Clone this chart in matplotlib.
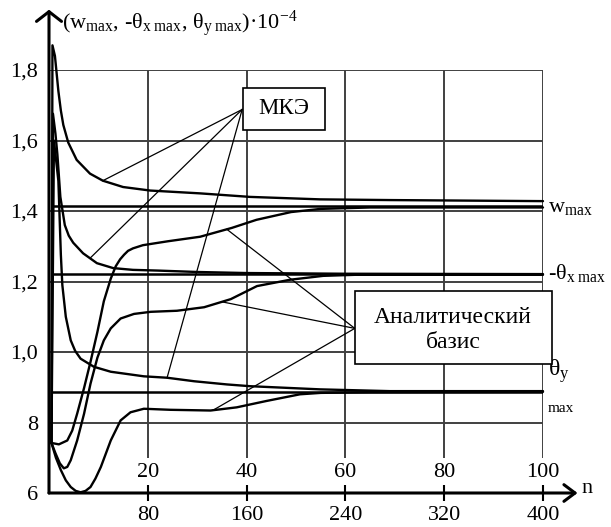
import matplotlib.pyplot as plt
import matplotlib.patches as patches
import numpy as np

plt.rcParams['font.family'] = ['Liberation Serif', 'DejaVu Serif']
plt.rcParams['mathtext.fontset'] = 'custom'
plt.rcParams['mathtext.rm'] = 'Liberation Serif'
plt.rcParams['mathtext.it'] = 'Liberation Serif:italic'

# FEM (МКЭ) curves
fem_w_n = [0.5, 0.7, 1.2, 1.9, 2.4, 2.9, 3.9, 5.6, 8.3, 10.9, 15, 20.5, 30.6, 40.7, 54.9, 69, 100]
fem_w = [0.742, 1.87, 1.84, 1.74, 1.685, 1.644, 1.594, 1.545, 1.506, 1.486, 1.468, 1.458, 1.45, 1.44, 1.433, 1.431, 1.428]

fem_tx_n = [0.5, 0.8, 1.3, 1.7, 2.0, 2.3, 3.2, 4.0, 4.9, 6.9, 9.7, 13, 17, 22, 30, 40, 60, 100]
fem_tx = [0.742, 1.676, 1.62, 1.56, 1.5, 1.44, 1.36, 1.33, 1.31, 1.28, 1.252, 1.238, 1.233, 1.231, 1.227, 1.224, 1.222, 1.221]

fem_ty_n = [0.5, 1.0, 1.9, 2.4, 2.7, 3.4, 4.4, 5.3, 6.4, 9.1, 12.5, 19.2, 23.9, 29.4, 36, 40.7, 54.9, 69, 100]
fem_ty = [0.742, 1.60, 1.485, 1.276, 1.19, 1.1, 1.033, 1.003, 0.981, 0.958, 0.944, 0.931, 0.927, 0.917, 0.908, 0.903, 0.894, 0.889, 0.889]

# analytic basis curves
an_w_n = [0.5, 2.0, 3.7, 4.7, 5.7, 7.1, 8.4, 9.8, 11.1, 12.5, 13.5, 14.4, 15.2, 16, 17, 19, 24, 30.6, 37, 42, 49, 55, 65, 100]
an_w = [0.742, 0.738, 0.749, 0.777, 0.825, 0.898, 0.972, 1.057, 1.144, 1.208, 1.243, 1.263, 1.276, 1.287, 1.294, 1.303, 1.314, 1.327, 1.352, 1.375, 1.397, 1.406, 1.41, 1.41]

an_tx_n = [0.5, 1.3, 2.2, 3.0, 3.7, 4.4, 5.7, 7.1, 8.4, 9.8, 11.1, 12.5, 14.5, 17.2, 20.6, 25.9, 31.4, 36.8, 42.1, 48.8, 55.5, 62, 100]
an_tx = [0.742, 0.713, 0.684, 0.67, 0.674, 0.693, 0.749, 0.825, 0.91, 0.984, 1.033, 1.067, 1.095, 1.108, 1.114, 1.117, 1.127, 1.15, 1.187, 1.205, 1.216, 1.219, 1.219]

an_ty_n = [0.5, 1.4, 2.4, 3.4, 4.4, 5.4, 6.4, 7.4, 8.4, 9.4, 10.5, 12.5, 14.5, 16.5, 19.2, 24.6, 32.7, 38, 44, 50.8, 55, 65, 100]
an_ty = [0.742, 0.70, 0.665, 0.636, 0.617, 0.606, 0.602, 0.606, 0.617, 0.641, 0.674, 0.749, 0.806, 0.829, 0.839, 0.836, 0.834, 0.843, 0.861, 0.88, 0.884, 0.886, 0.887]

# reference (limit) levels
ref_levels = [1.415, 1.22, 0.886]

n_ticks = [20, 40, 60, 80, 100]
n_labels_top = ['20', '40', '60', '80', '100']
n_labels_bottom = ['80', '160', '240', '320', '400']
y_ticks = [0.6, 0.8, 1.0, 1.2, 1.4, 1.6, 1.8]
y_labels = ['6', '8', '1,0', '1,2', '1,4', '1,6', '1,8']

# where the callout lines touch the curves
fem_ptr_n = [10.9, 8.3, 23.9]
an_ptr_n = [36.0, 35.0, 33.2]

fig = plt.figure(figsize=(6.11, 5.27), dpi=100)
ax = fig.add_axes([49 / 611, 34 / 527, 494 / 611, 423 / 527])
ax.set_xlim(0, 100)
ax.set_ylim(0.6, 1.8)
for s in ax.spines.values():
    s.set_visible(False)

ax.set_xticks(n_ticks)
ax.set_xticklabels(n_labels_bottom)
ax.tick_params(axis='x', direction='inout', length=12, width=1.5, pad=3, labelsize=16)
ax.set_yticks(y_ticks)
ax.set_yticklabels(y_labels)
ax.tick_params(axis='y', length=0, pad=8, labelsize=16)

# grid
ax.hlines(y_ticks[1:], 0, 100, color='#404040', lw=1.4, zorder=1)
ax.vlines(n_ticks, 0.70, 1.8, color='#404040', lw=1.4, zorder=1)
ax.hlines(ref_levels, 0.6, 100, color='black', lw=1.8, zorder=2)

curves = [(fem_w_n, fem_w), (fem_tx_n, fem_tx), (fem_ty_n, fem_ty),
          (an_w_n, an_w), (an_tx_n, an_tx), (an_ty_n, an_ty)]
for xs, ys in curves:
    ax.plot(xs, ys, color='black', lw=1.7, zorder=3, clip_on=False,
            solid_capstyle='round', solid_joinstyle='round')

# axes with arrows
ax.annotate('', xy=(0, 1.971), xytext=(0, 0.6), annotation_clip=False,
            arrowprops=dict(arrowstyle='->, head_length=0.35, head_width=0.45', lw=2.2,
                            color='black', shrinkA=0, shrinkB=0, mutation_scale=20))
ax.annotate('', xy=(107, 0.6), xytext=(0, 0.6), annotation_clip=False,
            arrowprops=dict(arrowstyle='->, head_length=0.4, head_width=0.3', lw=2.2,
                            color='black', shrinkA=0, shrinkB=0, mutation_scale=20))
ax.text(107.8, 0.612, 'n', fontsize=16, ha='left', va='center')

for t, lab in zip(n_ticks, n_labels_top):
    ax.text(t, 0.659, lab, ha='center', va='center', fontsize=16)

ax.text(2.6, 1.932, r'(w$_{\mathrm{max}}$, -θ$_{\mathrm{x\ max}}$, θ$_{\mathrm{y\ max}}$)·10$^{-4}$',
        fontsize=16, ha='left', va='center', clip_on=False)
ax.text(101, 1.411, r'w$_{\mathrm{max}}$', fontsize=16, ha='left', va='center', clip_on=False)
ax.text(101, 1.223, r'-θ$_{\mathrm{x\ max}}$', fontsize=16, ha='left', va='center', clip_on=False)
ax.text(101, 0.945, r'θ$_{\mathrm{y}}$', fontsize=17, ha='left', va='center', clip_on=False)
ax.text(101, 0.839, 'max', fontsize=11, ha='left', va='center', clip_on=False)

# callouts
fem_curves = [(fem_w_n, fem_w), (fem_tx_n, fem_tx), (fem_ty_n, fem_ty)]
for pn, (xs, ys) in zip(fem_ptr_n, fem_curves):
    ax.plot([39.1, pn], [1.688, np.interp(pn, xs, ys)], color='black', lw=0.9, zorder=4)
an_curves = [(an_w_n, an_w), (an_tx_n, an_tx), (an_ty_n, an_ty)]
for pn, (xs, ys) in zip(an_ptr_n, an_curves):
    ax.plot([61.9, pn], [1.067, np.interp(pn, xs, ys)], color='black', lw=0.9, zorder=4)

ax.add_patch(patches.Rectangle((39.3, 1.629), 16.6, 0.121, facecolor='white',
                               edgecolor='black', lw=1.2, zorder=5, clip_on=False))
ax.text(47.6, 1.691, 'МКЭ', ha='center', va='center', fontsize=16.5, zorder=6)
ax.add_patch(patches.Rectangle((61.9, 0.967), 39.9, 0.206, facecolor='white',
                               edgecolor='black', lw=1.2, zorder=5, clip_on=False))
ax.text(81.8, 1.063, 'Аналитический\nбазис', ha='center', va='center', fontsize=17,
        linespacing=1.25, zorder=6)

fig.savefig('out.png', dpi=100)
